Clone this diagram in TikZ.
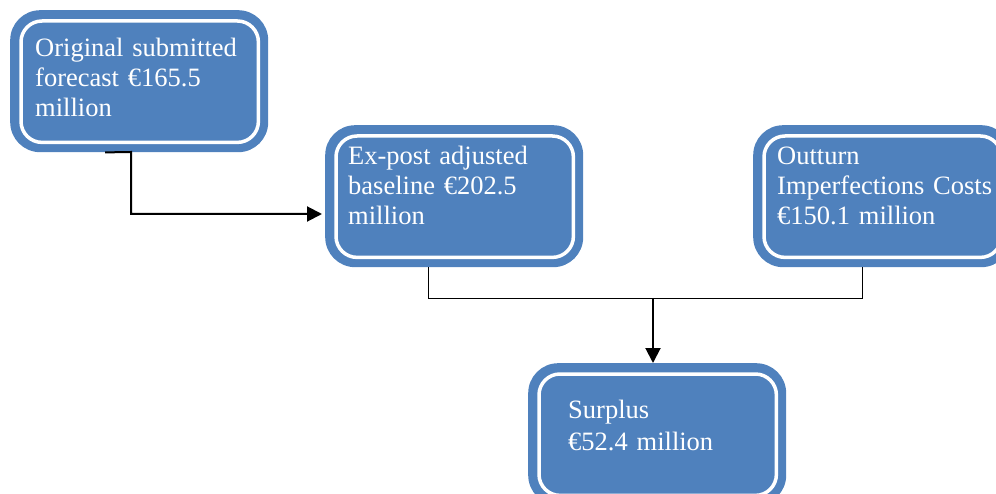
\documentclass[tikz,border=0pt]{standalone}
\usepackage{fontspec}
\setmainfont{Liberation Serif}
\usetikzlibrary{arrows.meta,calc}
\definecolor{boxblue}{HTML}{4F81BD}
\tikzset{
  outerbox/.style={rounded corners=30pt, fill=boxblue, draw=none, minimum width=258pt, minimum height=142pt, inner sep=0pt, anchor=north west},
  boxtext/.style={text=white, font=\fontsize{26.5}{30}\selectfont, text width=300pt, align=left, anchor=base west, inner sep=0pt},
  ring/.style={draw=white, line width=3.5pt, rounded corners=21pt},
  thinline/.style={draw=black, line width=0.9pt},
  thickarrow/.style={draw=black, line width=2pt, -{Triangle[length=15pt,width=15pt]}},
}
\begin{document}
\begin{tikzpicture}[x=1pt,y=-1pt]
\useasboundingbox (0,0) rectangle (996,494);
\clip (0,0) rectangle (996,494);
% boxes
\node[outerbox] (b1) at (10,10) {};
\node[outerbox] (b2) at (325,125) {};
\node[outerbox] (b3) at (753,125) {};
\node[outerbox] (b4) at (528,363) {};
\foreach \b in {b1,b2,b3,b4}{
  \draw[ring] ($(\b.north west)+(11,11)$) rectangle ($(\b.south east)+(-10,-10)$);
}
% texts
\node[boxtext] (t1) at ($(b1.north west)+(25,47)$) {Original submitted\\forecast €165.5\\million};
\node[boxtext] (t2) at ($(b2.north west)+(23,40)$) {Ex-post adjusted\\baseline €202.5\\million};
\node[boxtext] (t3) at ($(b3.north west)+(24,40)$) {Outturn\\Imperfections Costs\\€150.1 million};
\node[boxtext, font=\fontsize{26.5}{32}\selectfont] (t4) at ($(b4.north west)+(40,55)$) {Surplus\\€52.4 million};
% connectors
\coordinate (j) at (653,298);
\draw[thickarrow, shorten >=3pt] ([xshift=-34pt]b1.south) -- (131,152) -- (131,214) -- (131,214 -| b2.west);
\draw[thinline] ([xshift=-25.5pt]b2.south) |- (j);
\draw[thinline] ([xshift=-20pt]b3.south) |- (j);
\draw[thickarrow] (j) -- (j |- b4.north);
\end{tikzpicture}
\end{document}
